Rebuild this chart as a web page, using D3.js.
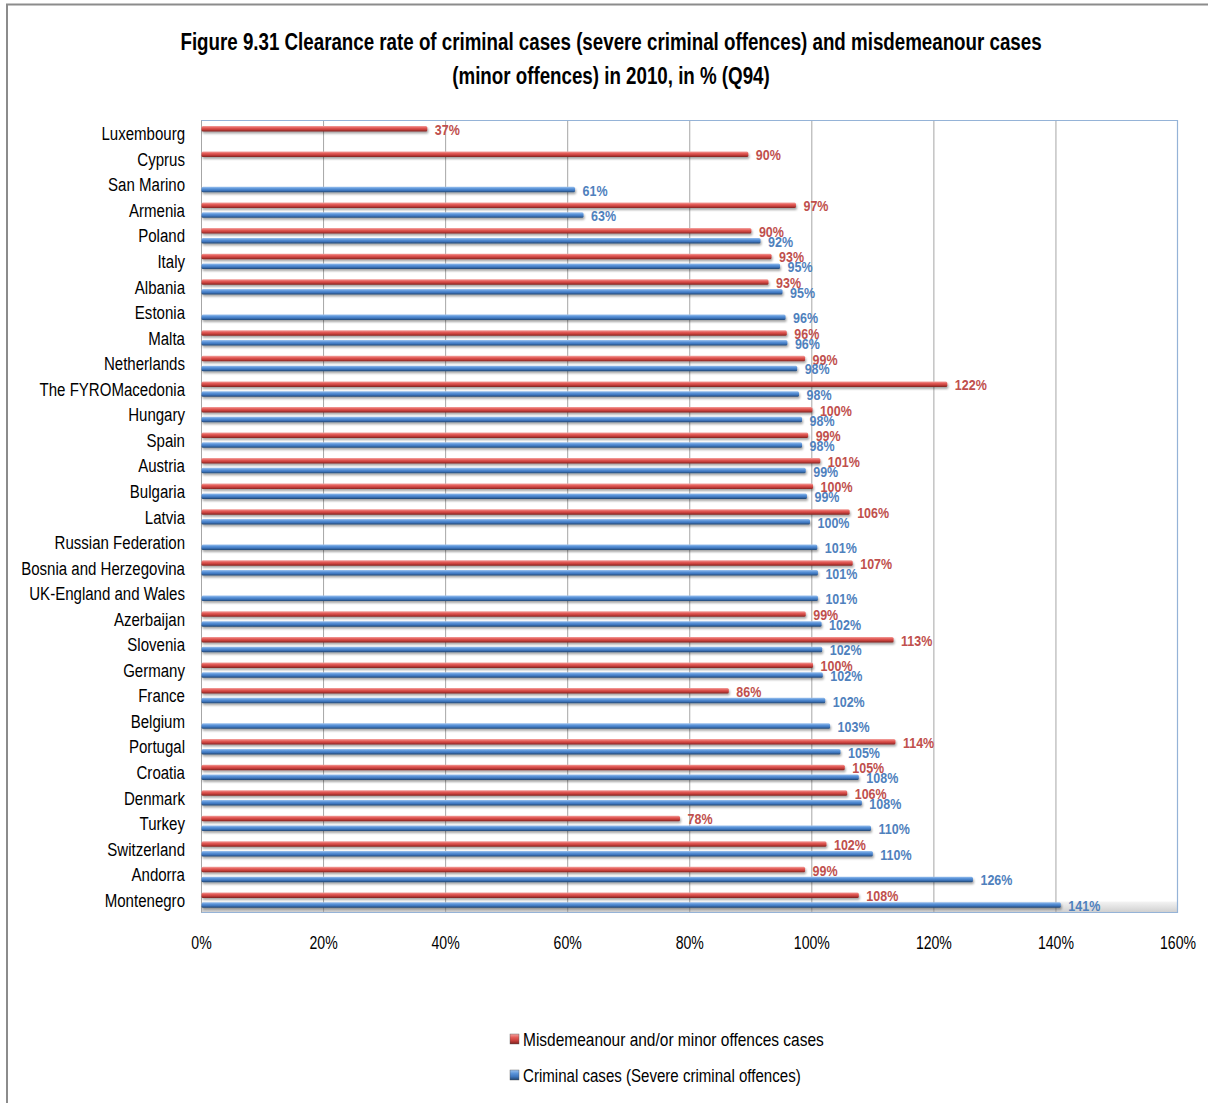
<!DOCTYPE html>
<html>
<head>
<meta charset="utf-8">
<script src="https://cdn.jsdelivr.net/npm/d3@7"></script>
<style>
  html, body { margin: 0; padding: 0; background: #fff; }
  svg { display: block; }
  text { font-family: "Liberation Sans", Arial, sans-serif; }
</style>
</head>
<body>
<svg id="chart" width="1208" height="1103"></svg>
<script>
const titleLines = [
  "Figure 9.31 Clearance rate of criminal cases (severe criminal offences) and misdemeanour cases",
  "(minor offences) in 2010, in % (Q94)"
];
const categories = [
  "Luxembourg", "Cyprus", "San Marino", "Armenia", "Poland", "Italy", "Albania", "Estonia",
  "Malta", "Netherlands", "The FYROMacedonia", "Hungary", "Spain", "Austria", "Bulgaria",
  "Latvia", "Russian Federation", "Bosnia and Herzegovina", "UK-England and Wales",
  "Azerbaijan", "Slovenia", "Germany", "France", "Belgium", "Portugal", "Croatia",
  "Denmark", "Turkey", "Switzerland", "Andorra", "Montenegro"
];
// Misdemeanour and/or minor offences cases (red)
const misdemeanour = [
  37.0, 89.6, null, 97.4, 90.1, 93.4, 92.9, null,
  95.9, 98.9, 122.2, 100.1, 99.4, 101.4, 100.2,
  106.2, null, 106.7, null,
  99.0, 113.4, 100.2, 86.4, null, 113.7, 105.4,
  105.8, 78.4, 102.4, 98.9, 107.7
];
// Criminal cases (severe criminal offences) (blue)
const criminal = [
  null, null, 61.2, 62.6, 91.6, 94.8, 95.2, 95.7,
  96.0, 97.6, 97.9, 98.4, 98.4, 99.0, 99.2,
  99.7, 100.9, 101.0, 101.0,
  101.6, 101.7, 101.8, 102.2, 103.0, 104.7, 107.7,
  108.2, 109.7, 110.0, 126.4, 140.8
];
const xTicks = [0, 20, 40, 60, 80, 100, 120, 140, 160];
const seriesNames = ["Misdemeanour and/or minor offences cases", "Criminal cases (Severe criminal offences)"];

const svg = d3.select("#chart");
const defs = svg.append("defs");

// horizontally condense texts (Calibri-like look) so that a reference text gets a target width
function condense(sel, k) {
  sel.each(function () {
    const t = d3.select(this);
    const tx = +t.attr("x") || 0, ty = +t.attr("y") || 0;
    const prev = t.attr("transform") || "";
    t.attr("x", 0).attr("y", 0).attr("transform", `${prev} translate(${tx},${ty}) scale(${k},1)`);
  });
}
function factorFor(node, target) {
  return target / node.getComputedTextLength();
}

function barGrad(id, c0, c1, c2, c3) {
  const g = defs.append("linearGradient").attr("id", id).attr("x1", 0).attr("y1", 0).attr("x2", 0).attr("y2", 1);
  g.append("stop").attr("offset", "0%").attr("stop-color", c0);
  g.append("stop").attr("offset", "35%").attr("stop-color", c1);
  g.append("stop").attr("offset", "65%").attr("stop-color", c2);
  g.append("stop").attr("offset", "100%").attr("stop-color", c3);
}
barGrad("gRed", "#f3a3a0", "#e35c58", "#c8403c", "#7e2320");
barGrad("gBlue", "#9cc2ef", "#5a93d8", "#3f77bf", "#22456f");
const floorG = defs.append("linearGradient").attr("id", "gFloor").attr("x1", 0).attr("y1", 0).attr("x2", 0).attr("y2", 1);
floorG.append("stop").attr("offset", "0%").attr("stop-color", "#f4f4f4");
floorG.append("stop").attr("offset", "100%").attr("stop-color", "#cfcfcf");
const shadow = defs.append("filter").attr("id", "shadow").attr("x", "-5%").attr("y", "-100%").attr("width", "110%").attr("height", "400%");
shadow.append("feDropShadow").attr("dx", 1).attr("dy", 2).attr("stdDeviation", 1.2).attr("flood-color", "#000").attr("flood-opacity", 0.35);

// outer frame
svg.append("path").attr("d", "M7,1103 L7,4.5 L1208,4.5").attr("fill", "none").attr("stroke", "#8c8c8c").attr("stroke-width", 2);

// title
const titles = svg.append("g").selectAll("text").data(titleLines).join("text")
  .attr("x", 611).attr("y", (d, i) => 50 + i * 34)
  .attr("text-anchor", "middle")
  .attr("font-size", 24).attr("font-weight", "bold").attr("fill", "#000")
  .text(d => d);
condense(titles, factorFor(titles.node(), 862));

const pLeft = 201, pRight = 1177.5, pTop = 120.5, pBottom = 912.5;
const x = d3.scaleLinear().domain([0, 160]).range([pLeft, pRight]);
const y = d3.scaleBand().domain(categories).range([pTop, pBottom]);

// floor
svg.append("rect").attr("x", pLeft).attr("y", pBottom - 11).attr("width", pRight - pLeft).attr("height", 11)
  .attr("fill", "url(#gFloor)");

// gridlines
svg.append("g").selectAll("line").data(xTicks.slice(1, -1)).join("line")
  .attr("x1", d => x(d) + 0.5).attr("x2", d => x(d) + 0.5)
  .attr("y1", pTop).attr("y2", pBottom)
  .attr("stroke", "#a6a6a6").attr("stroke-width", 1);

// plot border
svg.append("path").attr("d", `M${pLeft},${pTop} L${pRight},${pTop} L${pRight},${pBottom} L${pLeft},${pBottom}`)
  .attr("fill", "none").attr("stroke", "#95b3d7").attr("stroke-width", 1.2);
svg.append("line").attr("x1", pLeft + 0.5).attr("x2", pLeft + 0.5).attr("y1", pTop).attr("y2", pBottom)
  .attr("stroke", "#a6a6a6");

// category labels
const catLabels = svg.append("g").selectAll("text").data(categories).join("text")
  .attr("x", 185).attr("y", d => y(d) + y.bandwidth() / 2 + 7)
  .attr("text-anchor", "end")
  .attr("font-size", 19).attr("fill", "#000")
  .text(d => d);
condense(catLabels, factorFor(catLabels.filter(d => d === "Bosnia and Herzegovina").node(), 164));

// x axis labels
const xAxis = d3.axisBottom(x).tickValues(xTicks).tickFormat(d => d + "%").tickSize(0).tickPadding(0);
const ax = svg.append("g").attr("transform", `translate(0,${pBottom})`).call(xAxis);
ax.select(".domain").remove();
const tickTexts = ax.selectAll("text").attr("font-size", 18.5).attr("fill", "#000")
  .attr("dy", null).attr("y", 36)
  .style("font-family", '"Liberation Sans", Arial, sans-serif');
condense(tickTexts, factorFor(tickTexts.filter(d => d === 100).node(), 36));

const barH = 5.5;
const series = [
  { vals: misdemeanour, off: -4.6, fill: "url(#gRed)", color: "#c0504d" },
  { vals: criminal, off: 5.2, fill: "url(#gBlue)", color: "#4f81bd" }
];
const valueLabelGroups = [];
series.forEach(s => {
  const data = categories.map((c, i) => ({ c, v: s.vals[i] })).filter(d => d.v != null);
  const g = svg.append("g");
  g.selectAll("rect").data(data).join("rect")
    .attr("x", x(0) + 0.5)
    .attr("y", d => y(d.c) + y.bandwidth() / 2 + s.off - barH / 2)
    .attr("width", d => x(d.v) - x(0))
    .attr("height", barH)
    .attr("rx", 1.5)
    .attr("fill", s.fill)
    .attr("filter", "url(#shadow)");
  const lbl = g.selectAll("text").data(data).join("text")
    .attr("x", d => x(d.v) + 8)
    .attr("y", d => y(d.c) + y.bandwidth() / 2 + s.off + 6)
    .attr("font-size", 15).attr("font-weight", "bold")
    .attr("fill", s.color)
    .text(d => Math.round(d.v) + "%");
  valueLabelGroups.push(lbl);
});
const kVal = factorFor(valueLabelGroups[1].filter(d => d.c === "Montenegro").node(), 32);
valueLabelGroups.forEach(l => condense(l, kVal));

// legend
const legend = svg.append("g");
const legItems = [
  { name: seriesNames[0], fill: "url(#gRed)", w: 301 },
  { name: seriesNames[1], fill: "url(#gBlue)", w: 278 }
];
legItems.forEach((it, i) => {
  const ly = 1039 + i * 36;
  legend.append("rect").attr("x", 510).attr("y", ly - 5).attr("width", 9).attr("height", 10)
    .attr("fill", it.fill).attr("stroke", "#555").attr("stroke-width", 0.4);
  const t = legend.append("text").attr("x", 523).attr("y", ly + 7)
    .attr("font-size", 18.5).attr("fill", "#000").text(it.name);
  condense(t, factorFor(t.node(), it.w));
});
</script>
</body>
</html>
